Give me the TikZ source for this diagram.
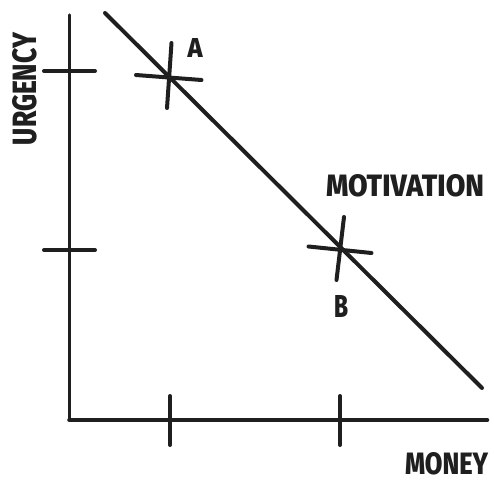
\documentclass[tikz,border=0pt]{standalone}
\usepackage{fontspec}
\setmainfont{Fira Sans}[BoldFont={Fira Sans ExtraBold}]
\usepackage{graphicx}
\newcommand{\lblbox}[3]{\resizebox{#1pt}{#2pt}{\bfseries #3}}
\begin{document}
\begin{tikzpicture}[x=1pt,y=-1pt,line cap=round,
  axis/.style={draw=black!88,line width=3.2pt},
  xaxis/.style={draw=black!88,line width=4.6pt},
  tick/.style={draw=black!88,line width=4pt},
  lbl/.style={inner sep=0pt,text=black!88}]
\useasboundingbox (0,0) rectangle (494,484);
% axis corners
\coordinate (ytop) at (69.5,15);
\coordinate (origin) at (69.5,420);
\coordinate (xend) at (487,420);
\draw[axis] (ytop) -- (origin);
\draw[xaxis] (origin) -- (xend);
% y ticks
\coordinate (yt1a) at (44,71); \coordinate (yt1b) at (95,71);
\coordinate (yt2a) at (44,250); \coordinate (yt2b) at (95,250);
\draw[tick] (yt1a) -- (yt1b);
\draw[tick] (yt2a) -- (yt2b);
% x ticks
\coordinate (xt1a) at (170,396); \coordinate (xt1b) at (170,445);
\coordinate (xt2a) at (340,396); \coordinate (xt2b) at (340,445);
\draw[tick] (xt1a) -- (xt1b);
\draw[tick] (xt2a) -- (xt2b);
% diagonal
\coordinate (d1) at (105,13);
\coordinate (d2) at (482,388);
\draw[tick] (d1) -- (d2);
% cross A
\coordinate (av1) at (171.5,43); \coordinate (av2) at (167,108);
\coordinate (ah1) at (136,75); \coordinate (ah2) at (201.5,80);
\draw[tick] (av1) -- (av2);
\draw[tick] (ah1) -- (ah2);
% cross B
\coordinate (bv1) at (344,217); \coordinate (bv2) at (336.5,280);
\coordinate (bh1) at (308.5,246.5); \coordinate (bh2) at (371.5,253);
\draw[tick] (bv1) -- (bv2);
\draw[tick] (bh1) -- (bh2);
% labels
\node[lbl] (la) at (195,47.5) {\lblbox{15}{19}{A}};
\node[lbl] (lb) at (341,306) {\lblbox{14}{22}{B}};
\node[lbl] (lmot) at (405,186) {\lblbox{158}{22}{MOTIVATION}};
\node[lbl] (lmon) at (446.5,464) {\lblbox{83}{22}{MONEY}};
\node[lbl,rotate=90] (lurg) at (25,89) {\lblbox{112}{24}{URGENCY}};
\end{tikzpicture}
\end{document}
